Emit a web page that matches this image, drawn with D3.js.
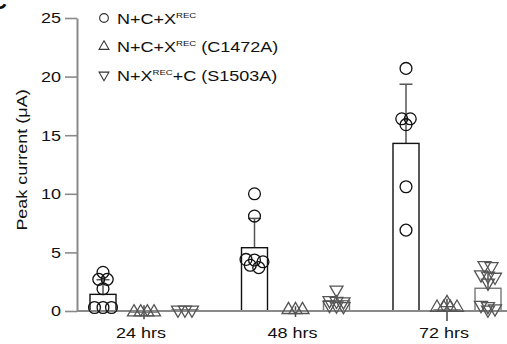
<!DOCTYPE html>
<html>
<head>
<meta charset="utf-8">
<script src="https://cdn.jsdelivr.net/npm/d3@7"></script>
<style>
  html, body { margin: 0; padding: 0; background: #fff; }
  svg { display: block; font-family: "Liberation Sans", Arial, sans-serif; }
</style>
</head>
<body>
<svg id="chart" width="507" height="344"></svg>
<script>
// ---- data ----
const groups = ["24 hrs", "48 hrs", "72 hrs"];
const seriesIds = ["wt", "c1472a", "s1503a"];

// legend labels as text runs; "sup" runs are superscripts
const legendWt = [{ t: "N+C+X" }, { t: "REC", sup: true }];
const legendC1472A = [{ t: "N+C+X" }, { t: "REC", sup: true }, { t: " (C1472A)" }];
const legendS1503A = [{ t: "N+X" }, { t: "REC", sup: true }, { t: "+C (S1503A)" }];

// individual recordings (µA), one array per time point
const wtPoints = [
  [3.3, 2.7, 2.7, 1.9, 0.3, 0.3, 0.3],
  [10.0, 8.1, 4.4, 4.35, 4.2, 3.9, 3.7],
  [20.7, 16.4, 16.4, 15.9, 10.6, 6.9]
];
const c1472aPoints = [
  [-0.1, -0.1, -0.1, -0.1],
  [0.1, 0.1, 0.1],
  [0.7, 0.3, 0.3, 0.3, 0.3]
];
const s1503aPoints = [
  [0.1, 0.1, 0.1],
  [1.8, 0.9, 0.85, 0.8, 0.5, 0.45, 0.4],
  [3.9, 3.8, 3.1, 3.0, 2.9, 2.4, 0.5, 0.4, 0.2, 0.1]
];

// mean and SD per time point
const wtMean = [1.42, 5.4, 14.3];
const wtSD = [1.25, 2.5, 5.05];
const c1472aMean = [-0.1, -0.05, 0.1];
const c1472aSD = [0.6, 0.45, 0.95];
const s1503aMean = [0.1, 0.88, 1.94];
const s1503aSD = [0.05, 0.5, 1.45];

const yTicks = [0, 5, 10, 15, 20, 25];
const yLabel = "Peak current (\u03bcA)";

// ---- styling per series ----
const triSize = 73;
const styles = {
  wt:     { type: d3.symbolCircle,   size: 110, rot: 0,   stroke: "#111", bar: "#111", err: "#555", cap: 13, rowH: 5, sep: 8.5, maxW: 24, legendSize: 60 },
  c1472a: { type: d3.symbolTriangle, size: triSize, rot: 0,   stroke: "#555", bar: "#777", err: "#444", cap: 0, rowH: 4, sep: 7, maxW: 20, legendSize: 42 },
  s1503a: { type: d3.symbolTriangle, size: triSize, rot: 180, stroke: "#555", bar: "#777", err: "#555", cap: 0, rowH: 4, sep: 7, maxW: 20, legendSize: 42 }
};

const series = [
  { id: "wt",     points: wtPoints,     mean: wtMean,     sd: wtSD,     legend: legendWt },
  { id: "c1472a", points: c1472aPoints, mean: c1472aMean, sd: c1472aSD, legend: legendC1472A },
  { id: "s1503a", points: s1503aPoints, mean: s1503aMean, sd: s1503aSD, legend: legendS1503A }
];

// ---- scales ----
const W = 507, H = 344;
const axisX = 77;
const y = d3.scaleLinear().domain([0, 25]).range([311, 18]);
const xGroup = d3.scalePoint().domain(groups).range([144, 447]);
const xSeries = d3.scalePoint().domain(seriesIds).range([-41, 41]);
const barW = 26;
const textStretch = 1.2;

const svg = d3.select("#chart");

// spread points that sit at nearly the same height into centred rows
function dodge(values, st) {
  const order = values.map((v, i) => i).sort((a, b) => values[b] - values[a]);
  const out = new Array(values.length).fill(0);
  let row = [];
  const flush = () => {
    const n = row.length;
    const s = n > 1 ? Math.min(st.sep, st.maxW / (n - 1)) : 0;
    row.forEach((k, j) => { out[k] = (j - (n - 1) / 2) * s; });
    row = [];
  };
  order.forEach(k => {
    if (row.length && y(values[k]) - y(values[row[0]]) > st.rowH) flush();
    row.push(k);
  });
  flush();
  return out;
}

// ---- panel letter (partly outside the frame) ----
svg.append("text")
  .attr("x", -9).attr("y", 9)
  .attr("font-size", 22).attr("font-weight", "bold")
  .attr("fill", "#111")
  .text("C");

// ---- error bars ----
const errG = svg.append("g");
series.forEach(s => {
  const st = styles[s.id];
  groups.forEach((g, gi) => {
    const cx = xGroup(g) + xSeries(s.id);
    const lo = s.mean[gi] - s.sd[gi], hi = s.mean[gi] + s.sd[gi];
    errG.append("line")
      .attr("x1", cx).attr("x2", cx)
      .attr("y1", y(lo)).attr("y2", y(hi))
      .attr("stroke", st.err).attr("stroke-width", 1.5);
    if (st.cap > 0) {
      [lo, hi].forEach(v => {
        errG.append("line")
          .attr("x1", cx - st.cap / 2).attr("x2", cx + st.cap / 2)
          .attr("y1", y(v)).attr("y2", y(v))
          .attr("stroke", st.err).attr("stroke-width", 1.5);
      });
    }
  });
});

// ---- bars (mean) ----
const barG = svg.append("g");
series.forEach(s => {
  const st = styles[s.id];
  barG.selectAll(null)
    .data(groups.map((g, gi) => ({ g, v: s.mean[gi] })))
    .join("rect")
    .attr("x", d => xGroup(d.g) + xSeries(s.id) - barW / 2)
    .attr("width", barW)
    .attr("y", d => Math.min(y(d.v), y(0)))
    .attr("height", d => Math.abs(y(d.v) - y(0)))
    .attr("fill", "#fff")
    .attr("stroke", st.bar)
    .attr("stroke-width", 1.4);
});

// ---- axes ----
const yAxis = d3.axisLeft(y).tickValues(yTicks).tickSize(12).tickSizeOuter(0).tickPadding(4);
const yAxisG = svg.append("g")
  .attr("transform", `translate(${axisX},0)`)
  .call(yAxis);
yAxisG.select(".domain").attr("stroke", "#8a8a8a").attr("stroke-width", 2);
yAxisG.selectAll(".tick line").attr("stroke", "#8a8a8a").attr("stroke-width", 1.6);
yAxisG.selectAll(".tick text")
  .attr("font-size", 15)
  .attr("fill", "#111")
  .attr("font-family", "Liberation Sans, Arial, sans-serif")
  .attr("x", -16 / textStretch)
  .attr("transform", `scale(${textStretch},1)`);

svg.append("line")
  .attr("x1", axisX).attr("x2", W)
  .attr("y1", y(0)).attr("y2", y(0))
  .attr("stroke", "#8a8a8a").attr("stroke-width", 2);

const xAxis = d3.axisBottom(xGroup).tickSize(0).tickPadding(0);
const xAxisG = svg.append("g")
  .attr("transform", `translate(0,${y(0)})`)
  .call(xAxis);
xAxisG.select(".domain").remove();
xAxisG.selectAll(".tick text")
  .attr("font-size", 15)
  .attr("fill", "#111")
  .attr("font-family", "Liberation Sans, Arial, sans-serif")
  .attr("dy", null)
  .attr("y", 27.5)
  .attr("x", -3.5 / textStretch)
  .attr("transform", `scale(${textStretch},1)`);

// y axis title
svg.append("text")
  .attr("transform", `translate(27,160) rotate(-90) scale(${textStretch},1)`)
  .attr("text-anchor", "middle")
  .attr("font-size", 15)
  .attr("fill", "#111")
  .text(yLabel);

// ---- points ----
const ptG = svg.append("g");
series.forEach(s => {
  const st = styles[s.id];
  const sym = d3.symbol().type(st.type).size(st.size);
  groups.forEach((g, gi) => {
    const vals = s.points[gi];
    const off = dodge(vals, st);
    ptG.selectAll(null)
      .data(vals.map((v, i) => ({ v, dx: off[i] })))
      .join("path")
      .attr("d", sym)
      .attr("transform", d => `translate(${xGroup(g) + xSeries(s.id) + d.dx},${y(d.v)}) rotate(${st.rot})`)
      .attr("fill", "none")
      .attr("stroke", st.stroke)
      .attr("stroke-width", 1.3);
  });
});

// ---- legend ----
const legendRows = d3.scalePoint().domain(seriesIds).range([18, 75]);
const legG = svg.append("g");
series.forEach(s => {
  const st = styles[s.id];
  const ry = legendRows(s.id);
  legG.append("path")
    .attr("d", d3.symbol().type(st.type).size(st.legendSize))
    .attr("transform", `translate(104,${ry}) rotate(${st.rot})`)
    .attr("fill", "none")
    .attr("stroke", "#333")
    .attr("stroke-width", 1.1);
  const txt = legG.append("text")
    .attr("transform", `translate(117,${ry + 5.5}) scale(${textStretch},1)`)
    .attr("font-size", 15)
    .attr("fill", "#111");
  s.legend.forEach(run => {
    const ts = txt.append("tspan").text(run.t);
    if (run.sup) ts.attr("font-size", 8).attr("dy", -6);
    else if (run !== s.legend[0]) ts.attr("dy", 6);
  });
});
</script>
</body>
</html>
